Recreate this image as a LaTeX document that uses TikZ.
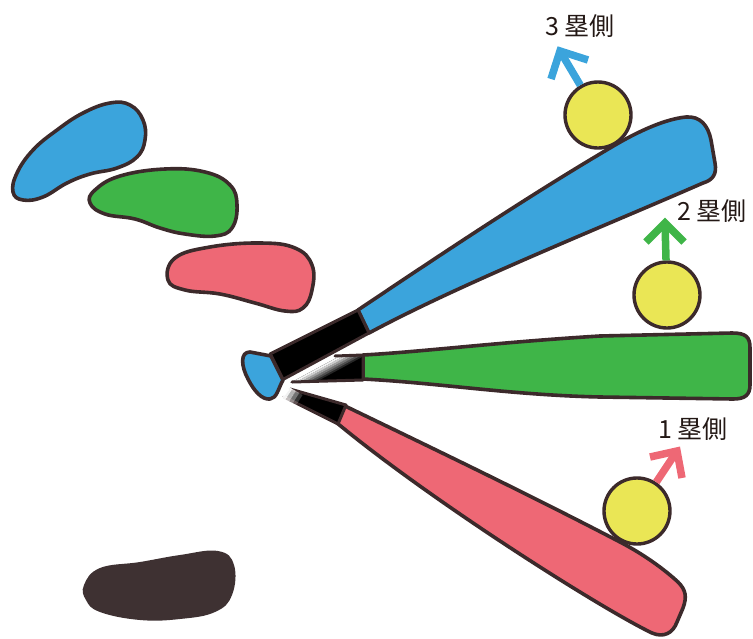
\documentclass[tikz,border=0pt]{standalone}
\usepackage{fontspec}
\newfontfamily\jpfont{Noto Sans CJK JP}
\definecolor{batblue}{HTML}{3BA4DC}
\definecolor{batgreen}{HTML}{3FB548}
\definecolor{batred}{HTML}{EE6875}
\definecolor{ballyellow}{HTML}{EAE655}
\definecolor{inkline}{HTML}{3C2A2B}
\definecolor{blobdark}{HTML}{3E3132}
\definecolor{labelink}{HTML}{231815}
\tikzset{
  outl/.style={draw=inkline, line width=3.6pt, line join=round},
  gripedge/.style={draw=inkline, line width=3pt, line join=round, line cap=round},
  ball/.style={circle, draw=inkline, line width=3.4pt, fill=ballyellow, minimum size=66pt, inner sep=0pt},
  lbl/.style={font=\jpfont\fontsize{25}{25}\selectfont, text=labelink, inner sep=0pt},
  flight/.style={line width=7.5pt, line join=miter, miter limit=10},
}
\begin{document}
\begin{tikzpicture}[x=1pt,y=-1pt]
\useasboundingbox (0,0) rectangle (753,638);

% ---- hand / glove blobs ----
\filldraw[outl, fill=batblue] plot[smooth cycle, tension=0.7] coordinates
  {(110,103) (130,105) (143,120) (145,140) (137,157) (117,168) (90,174) (67,183) (43,197) (23,200) (13,192) (17,173) (33,150) (57,130) (83,113)};
\filldraw[outl, fill=batgreen] plot[smooth cycle, tension=0.7] coordinates
  {(95,190) (120,176) (165,169) (205,172) (230,185) (237,205) (232,228) (215,236) (185,234) (160,228) (135,219) (105,214) (90,203)};
\filldraw[outl, fill=batred] plot[smooth cycle, tension=0.7] coordinates
  {(175,258) (210,247) (260,243) (295,248) (312,265) (312,290) (303,308) (285,311) (255,303) (220,294) (185,290) (168,280)};
\fill[blobdark] plot[smooth cycle, tension=0.7] coordinates
  {(84,585) (100,568) (140,562) (180,555) (218,551) (234,565) (232,595) (215,612) (180,619) (140,620) (100,612) (86,600)};

% ---- red bat (swing toward first base) ----
\filldraw[outl, fill=batred]
  (343,405) .. controls (430,447) and (530,495) .. (620,542)
  .. controls (645,555) and (665,570) .. (678,582)
  .. controls (686,590) and (687,597) .. (683,608) -- (677,622)
  .. controls (673,633) and (664,638) .. (652,633)
  .. controls (600,608) and (430,500) .. (337,423) -- cycle;
\fill[black] (290,389) -- (346,405) -- (338,424) -- (284,397) -- cycle;
\draw[gripedge] (290,389) -- (346,405) -- (338,424) -- (284,397);
\foreach \o [count=\i from 0] in {0.95,0.7,0.45,0.2} {
  \fill[white, opacity=\o] ({282+3.4*\i},{398+2*\i}) -- ({289+3.4*\i},{387+2*\i})
    -- ({292.4+3.4*\i},{389+2*\i}) -- ({285.4+3.4*\i},{400+2*\i}) -- cycle;
}

% ---- green bat (swing toward second base) ----
\filldraw[outl, fill=batgreen]
  (363,355) .. controls (420,352) and (500,342) .. (600,336) -- (732,333)
  .. controls (746,333) and (750,337) .. (750,348) -- (750,385)
  .. controls (750,395) and (745,399) .. (733,399) -- (600,397)
  .. controls (510,395) and (440,383) .. (363,379) -- cycle;
\fill[black] (290,383) -- (363,380) -- (363,355) -- (340,356) -- cycle;
\foreach \o [count=\i from 0] in {0.95,0.8,0.62,0.45,0.3,0.15} {
  \fill[white, opacity=\o] ({290+4*\i},383) -- ({340+4*\i},356)
    -- ({344+4*\i},356) -- ({294+4*\i},383) -- cycle;
}
\draw[gripedge] (292,382) -- (363,380) -- (363,355) -- (335,356);

% ---- blue bat (swing toward third base) ----
\filldraw[outl, fill=batblue]
  (358,310) .. controls (440,255) and (530,195) .. (610,148)
  .. controls (640,130) and (666,119) .. (686,117)
  .. controls (700,116) and (708,125) .. (711,140) -- (715,163)
  .. controls (717,174) and (713,180) .. (703,183)
  .. controls (600,228) and (460,284) .. (369,333) -- cycle;
\fill[black] (270,354) -- (358,310) -- (369,333) -- (282,380) -- cycle;
\draw[gripedge] (270,354) -- (358,310) -- (369,333) -- (282,380) -- cycle;
\filldraw[outl, fill=batblue] (271,356) -- (250,352)
  .. controls (240,352) and (241,366) .. (248,379)
  .. controls (254,391) and (262,400) .. (270,399)
  .. controls (277,398) and (278,389) .. (283,380) -- cycle;

% ---- balls ----
\node[ball] (ball3) at (598,115) {};
\node[ball] (ball2) at (667,295) {};
\node[ball] (ball1) at (637,511) {};

% ---- direction arrows ----
\coordinate (tip3) at (560,51);
\coordinate (tip3a) at (551,79);
\coordinate (tip3b) at (588,60);
\draw[flight, batblue] (ball3) -- (tip3);
\draw[flight, batblue] (tip3a) -- (tip3) -- (tip3b);

\coordinate (tip2) at (665,223);
\coordinate (tip2a) at (646,242);
\coordinate (tip2b) at (684,242);
\draw[flight, batgreen] (ball2) -- (tip2);
\draw[flight, batgreen] (tip2a) -- (tip2) -- (tip2b);

\coordinate (tip1) at (677,451);
\coordinate (tip1a) at (650,457);
\coordinate (tip1b) at (682,478);
\draw[flight, batred] (ball1) -- (tip1);
\draw[flight, batred] (tip1a) -- (tip1) -- (tip1b);

% ---- labels ----
\node[lbl] (lab3) at (580,26) {3 塁側};
\node[lbl] (lab2) at (712,211) {2 塁側};
\node[lbl] (lab1) at (693,429) {1 塁側};
\end{tikzpicture}
\end{document}
